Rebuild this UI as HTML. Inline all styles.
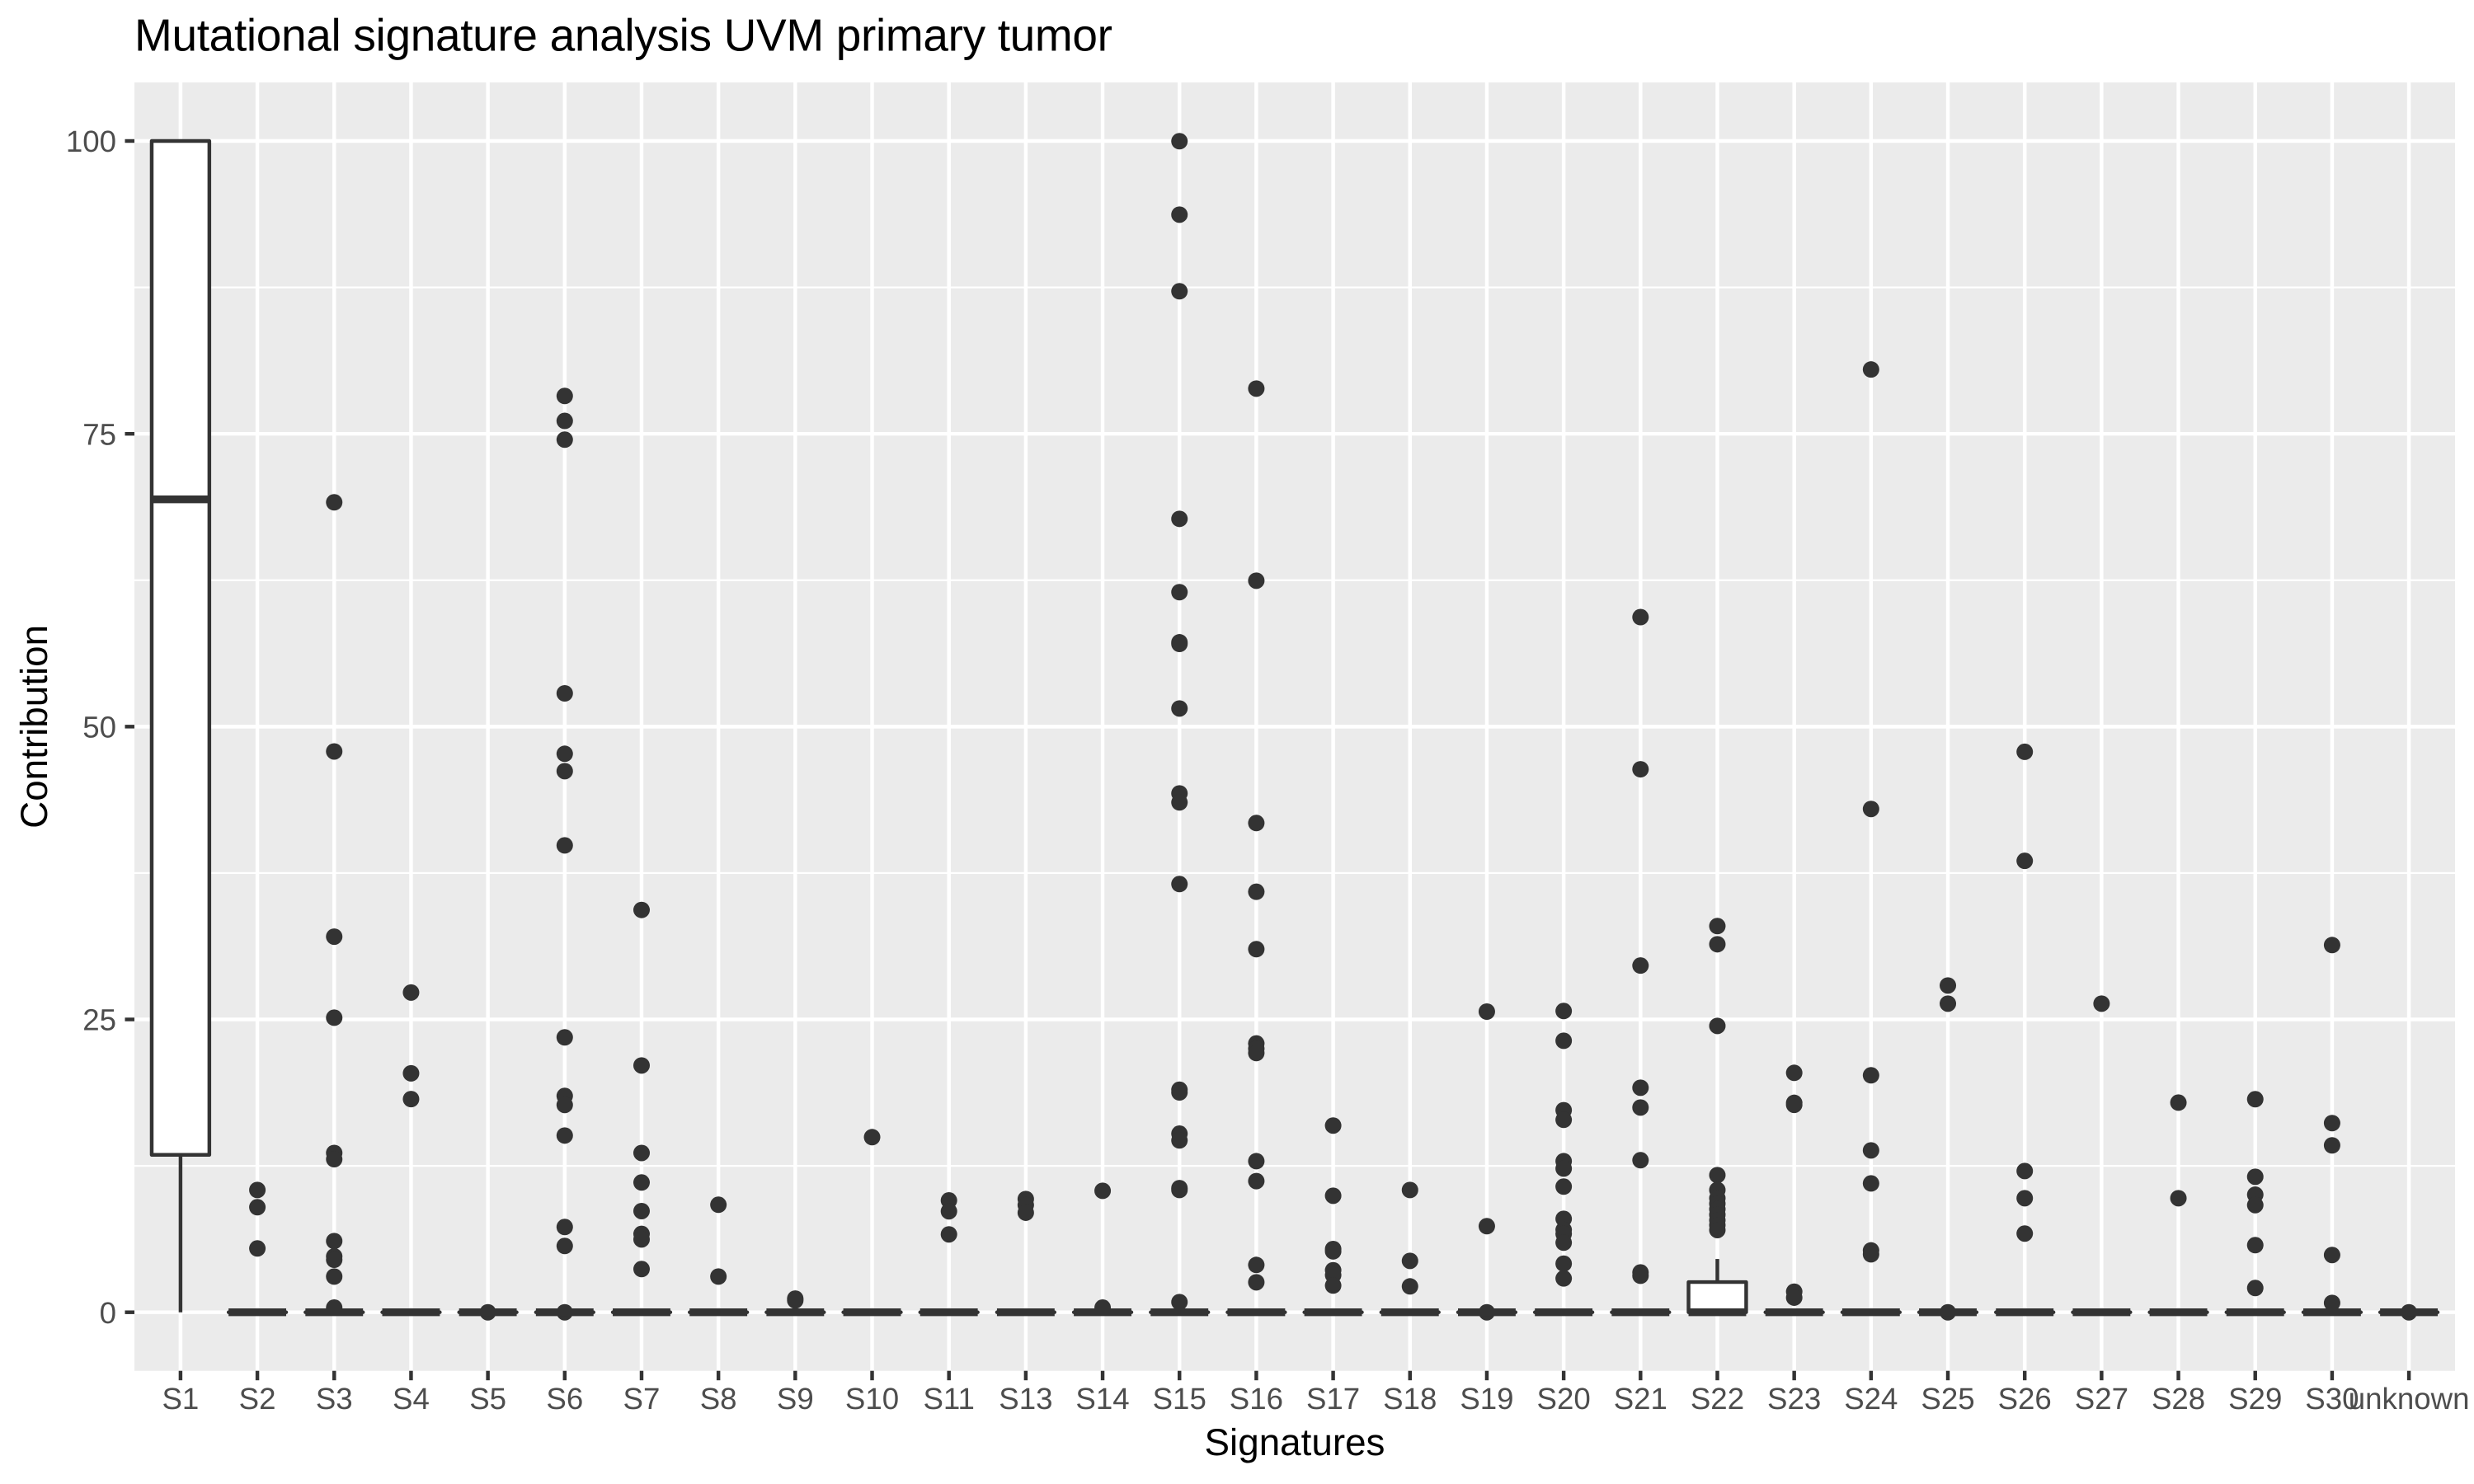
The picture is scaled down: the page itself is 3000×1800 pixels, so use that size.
<!DOCTYPE html>
<html lang="en">
<head>
<meta charset="utf-8">
<title>Mutational signature analysis UVM primary tumor</title>
<style>
html,body{margin:0;padding:0;background:#fff;width:3000px;height:1800px;overflow:hidden}
svg{display:block}
text{font-family:"Liberation Sans",Arial,sans-serif;text-rendering:geometricPrecision}
</style>
</head>
<body>
<svg id="chart" xmlns="http://www.w3.org/2000/svg" width="3000" height="1800" viewBox="0 0 3000 1800">
  <rect x="0" y="0" width="3000" height="1800" fill="#ffffff"/>
  <rect x="163" y="100" width="2814" height="1562.7" fill="#EBEBEB"/>
  <g id="grid"></g>
  <g id="marks"></g>
  <g id="axes"></g>
  <text x="163" y="61.7" font-size="55" fill="#000000" textLength="1186" lengthAdjust="spacing">Mutational signature analysis UVM primary tumor</text>
  <text x="1570" y="1765" font-size="45.8" fill="#000000" text-anchor="middle">Signatures</text>
  <text transform="translate(57,881.4) rotate(-90)" font-size="45.8" fill="#000000" text-anchor="middle">Contribution</text>
</svg>
<script>
const categories = ["S1","S2","S3","S4","S5","S6","S7","S8","S9","S10","S11","S13","S14","S15","S16","S17","S18","S19","S20","S21","S22","S23","S24","S25","S26","S27","S28","S29","S30","unknown"];
const yTicks = [0, 25, 50, 75, 100];
const yMinorTicks = [12.5, 37.5, 62.5, 87.5];
const q1Values = [13.44,0,0,0,0,0,0,0,0,0,0,0,0,0,0,0,0,0,0,0,0,0,0,0,0,0,0,0,0,0];
const medianValues = [69.4,0,0,0,0,0,0,0,0,0,0,0,0,0,0,0,0,0,0,0,0,0,0,0,0,0,0,0,0,0];
const q3Values = [100,0,0,0,0,0,0,0,0,0,0,0,0,0,0,0,0,0,0,0,2.58,0,0,0,0,0,0,0,0,0];
const whiskerLowValues = [0,0,0,0,0,0,0,0,0,0,0,0,0,0,0,0,0,0,0,0,0,0,0,0,0,0,0,0,0,0];
const whiskerHighValues = [100,0,0,0,0,0,0,0,0,0,0,0,0,0,0,0,0,0,0,0,4.55,0,0,0,0,0,0,0,0,0];
const outlierValues = [
  [],
  [10.44,8.97,5.45],
  [69.15,47.88,32.07,25.15,13.6,13.07,6.08,4.77,4.48,3.05,0.4],
  [27.3,20.4,18.2],
  [0],
  [78.23,76.1,74.5,52.84,47.68,46.2,39.86,23.47,18.47,17.7,15.09,7.28,5.66,0],
  [34.35,21.07,13.6,11.08,8.64,6.69,6.22,3.69],
  [9.18,3.05],
  [1.17,1.01],
  [14.95],
  [9.55,8.62,6.65],
  [9.67,9.15,8.5],
  [10.37,0.4],
  [99.98,93.71,87.17,67.74,61.48,57.2,57.06,51.55,44.3,43.53,36.56,19.0,18.77,15.25,14.67,10.6,10.44,0.87],
  [78.86,62.46,41.77,35.9,31.0,22.95,22.5,22.13,12.9,11.2,4.04,2.56],
  [15.94,9.95,5.4,5.2,3.59,3.17,2.28],
  [10.44,4.39,2.21],
  [25.67,7.35,0],
  [25.72,23.18,17.25,16.43,12.9,12.27,10.73,7.98,7.04,6.69,5.94,4.15,2.89],
  [59.35,46.36,29.6,19.17,17.48,12.98,3.4,3.12],
  [32.97,31.42,24.45,11.71,10.44,9.74,9.27,8.8,8.33,7.86,7.44,7.02],
  [20.44,17.88,17.71,1.76,1.25],
  [80.49,42.97,20.23,13.82,11.0,5.28,4.95],
  [27.9,26.35,0],
  [47.85,38.54,12.06,9.74,6.72],
  [26.35],
  [17.9,9.74],
  [18.19,11.57,10.04,9.15,5.73,2.07],
  [31.35,16.15,14.25,4.89,0.8],
  [0]
];

const SVG_NS = "http://www.w3.org/2000/svg";
const panelLeft = 163, panelRight = 2977, panelTop = 100, panelBottom = 1662.7;
const LW = 4.45, DARK = "#333333";
const xUnit = (panelRight - panelLeft) / (categories.length - 1 + 1.2);
function xScale(i) { return panelLeft + (0.6 + i) * xUnit; }
function yScale(v) { return 1591.7 - v * 14.207; }
function make(tag, attrs, parent) {
  const el = document.createElementNS(SVG_NS, tag);
  for (const k in attrs) el.setAttribute(k, attrs[k]);
  parent.appendChild(el);
  return el;
}
const grid = document.getElementById("grid");
const marks = document.getElementById("marks");
const axes = document.getElementById("axes");

yMinorTicks.forEach(function (v) {
  const el = make("line", {x1: panelLeft, x2: panelRight, y1: yScale(v), y2: yScale(v), stroke: "#fff", "stroke-width": LW / 2}, grid);
  
  
});
yTicks.forEach(function (v) {
  const y = yScale(v);
  const g = make("line", {x1: panelLeft, x2: panelRight, y1: y, y2: y, stroke: "#fff", "stroke-width": LW}, grid);
  
  
  const t = make("line", {x1: panelLeft - 11.5, x2: panelLeft, y1: y, y2: y, stroke: DARK, "stroke-width": LW}, axes);
  
  
  const lab = make("text", {x: 141, y: y + 13.2, "font-size": 36.67, fill: "#4D4D4D", "text-anchor": "end"}, axes);
  lab.textContent = String(v);
  
  
});
categories.forEach(function (name, i) {
  const x = xScale(i);
  const g = make("line", {x1: x, x2: x, y1: panelTop, y2: panelBottom, stroke: "#fff", "stroke-width": LW}, grid);
  
  
  const t = make("line", {x1: x, x2: x, y1: panelBottom, y2: panelBottom + 11.5, stroke: DARK, "stroke-width": LW}, axes);
  
  
  const lab = make("text", {x: x, y: 1709, "font-size": 36.67, fill: "#4D4D4D", "text-anchor": "middle"}, axes);
  lab.textContent = name;
  
  
});
categories.forEach(function (name, i) {
  const x = xScale(i);
  const half = 0.375 * xUnit;
  const group = make("g", {}, marks);
  
  
  outlierValues[i].forEach(function (v) {
    const c = make("circle", {cx: x, cy: yScale(v), r: 10, fill: DARK}, group);
    
    
  });
  const wu = make("line", {x1: x, x2: x, y1: yScale(q3Values[i]), y2: yScale(whiskerHighValues[i]), stroke: DARK, "stroke-width": LW}, group);
  
  
  const wl = make("line", {x1: x, x2: x, y1: yScale(q1Values[i]), y2: yScale(whiskerLowValues[i]), stroke: DARK, "stroke-width": LW}, group);
  
  
  const yTop = yScale(q3Values[i]), yBot = yScale(q1Values[i]);
  const box = make("path", {d: "M" + (x - half) + " " + yTop + "H" + (x + half) + "V" + yBot + "H" + (x - half) + "Z", fill: "#ffffff", stroke: DARK, "stroke-width": LW, "stroke-linejoin": "round"}, group);
  
  
  const med = make("line", {x1: x - half, x2: x + half, y1: yScale(medianValues[i]), y2: yScale(medianValues[i]), stroke: DARK, "stroke-width": 9.4}, group);
  
  
});
</script>
</body>
</html>
